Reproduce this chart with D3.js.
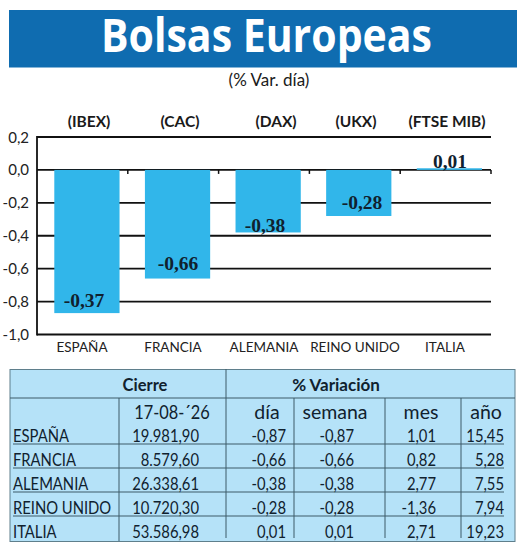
<!DOCTYPE html>
<html><head><meta charset="utf-8">
<style>html,body{margin:0;padding:0;background:#fff}svg{display:block}text{font-family:Lato,"Open Sans",sans-serif}</style>
<script src="https://cdnjs.cloudflare.com/ajax/libs/d3/7.8.5/d3.min.js"></script></head><body>
<svg id="c" width="520" height="547"></svg>
<script>
const countries=["ESPAÑA","FRANCIA","ALEMANIA","REINO UNIDO","ITALIA"];
const indices=["(IBEX)","(CAC)","(DAX)","(UKX)","(FTSE MIB)"];
const dayValues=[-0.87,-0.66,-0.38,-0.28,0.01];
const barLabels=["-0,37","-0,66","-0,38","-0,28","0,01"];
const yTicks=[0.2,0,-0.2,-0.4,-0.6,-0.8,-1.0];
const closes=["19.981,90","8.579,60","26.338,61","10.720,30","53.586,98"];
const dia=["-0,87","-0,66","-0,38","-0,28","0,01"];
const semana=["-0,87","-0,66","-0,38","-0,28","0,01"];
const mes=["1,01","0,82","2,77","-1,36","2,71"];
const anio=["15,45","5,28","7,55","7,94","19,23"];
const subHeads=["17-08-´26","día","semana","mes","año"];

const svg=d3.select("#c");
const BLUE="#0f6cb0",SKY="#31b6ea",PALE="#b5e2f8",LINE="#3c5a68",INK="#10212e";

// banner
svg.append("rect").attr("x",9).attr("y",10).attr("width",508).attr("height",57.5).attr("fill",BLUE);
svg.append("text").attr("x",266.5).attr("y",52).attr("text-anchor","middle").attr("fill","#fff")
  .attr("font-size",46).attr("font-weight",700).style("font-family","'Open Sans'").attr("textLength",331).attr("lengthAdjust","spacingAndGlyphs").text("Bolsas Europeas");
svg.append("text").attr("x",269).attr("y",86).attr("text-anchor","middle").attr("fill","#1a1a1a")
  .attr("font-size",17).text("(% Var. día)");

// chart
const x=d3.scaleBand().domain(countries).range([54.3,482]).paddingInner(0.28).paddingOuter(0);
const y=d3.scaleLinear().domain([-1,0.2]).range([334.5,137]);
const g=svg.append("g");
g.selectAll("line.g").data(yTicks).join("line").attr("class","g")
  .attr("x1",37).attr("x2",491).attr("y1",d=>y(d)).attr("y2",d=>y(d))
  .attr("stroke","#111").attr("stroke-width",1.8);
g.append("line").attr("x1",37).attr("x2",37).attr("y1",y(0.2)-.9).attr("y2",y(-1)+.9).attr("stroke","#111").attr("stroke-width",1.8);
g.selectAll("line.t").data(d3.range(1,6)).join("line").attr("class","t")
  .attr("x1",i=>37+i*90.8).attr("x2",i=>37+i*90.8).attr("y1",y(0)).attr("y2",y(0)+4).attr("stroke","#111").attr("stroke-width",1.5);
g.selectAll("rect.b").data(dayValues).join("rect").attr("class","b")
  .attr("x",(d,i)=>x(countries[i])).attr("width",x.bandwidth())
  .attr("y",d=>y(Math.max(d,0))).attr("height",d=>Math.max(Math.abs(y(d)-y(0)),1.5))
  .attr("fill",SKY);
g.selectAll("text.tick").data(yTicks).join("text").attr("class","tick")
  .attr("x",29).attr("y",d=>y(d)+5.5).attr("text-anchor","end").attr("font-size",15).attr("fill","#222")
  .text(d=>d3.format(".1f")(d).replace(".",",").replace("−","-"));
const valX=[84,178,265,362,450];
const valY=[307,270,231.5,209,168];
g.selectAll("text.val").data(dayValues).join("text").attr("class","val")
  .attr("x",(d,i)=>valX[i]).attr("y",(d,i)=>valY[i])
  .attr("text-anchor","middle").attr("font-size",19.5).attr("font-weight",700).attr("fill",INK)
  .style("font-family","'Liberation Serif'").text((d,i)=>barLabels[i]);
const catX=[82,173,264,355,445];
g.selectAll("text.cat").data(countries).join("text").attr("class","cat")
  .attr("x",(d,i)=>catX[i]).attr("y",352).attr("text-anchor","middle").attr("font-size",13.5).attr("fill","#222").text(d=>d);
const idxX=[89,180,276,356,447];
g.selectAll("text.idx").data(indices).join("text").attr("class","idx")
  .attr("x",(d,i)=>idxX[i]).attr("y",127).attr("text-anchor","middle").attr("font-size",15.5).attr("font-weight",700).attr("fill","#1a1a1a").text(d=>d);

// table
const tb=svg.append("g");
tb.append("rect").attr("x",10).attr("y",369.5).attr("width",505).attr("height",172).attr("fill",PALE).attr("stroke","#5f7f8c").attr("stroke-width",1);
const rowLines=[398,444,468,492,516];
tb.selectAll("line.r").data(rowLines).join("line").attr("class","r")
  .attr("x1",(d,i)=>i?13:10).attr("x2",(d,i)=>i?504:515).attr("y1",d=>d).attr("y2",d=>d).attr("stroke",LINE).attr("stroke-width",1);
const colLines=[[119,398,541],[226,369,538],[294,398,538],[385,398,538],[461,398,538]];
tb.selectAll("line.c").data(colLines).join("line").attr("class","c")
  .attr("x1",d=>d[0]).attr("x2",d=>d[0]).attr("y1",d=>d[1]).attr("y2",d=>d[2]).attr("stroke",LINE).attr("stroke-width",1);
tb.append("text").attr("x",145).attr("y",391).attr("text-anchor","middle").attr("font-size",16.5).attr("font-weight",700).attr("fill",INK).text("Cierre");
tb.append("text").attr("x",336).attr("y",391).attr("text-anchor","middle").attr("font-size",17).attr("font-weight",700).attr("fill",INK).text("% Variación");
const subX=[172,267,335,421,486];
tb.selectAll("text.s").data(subHeads).join("text").attr("class","s")
  .attr("transform",(d,i)=>`translate(${subX[i]},419) scale(${i?1:0.84},1)`).attr("text-anchor","middle").attr("font-size",19.5).attr("fill",INK).text(d=>d);
const rowY=[442,466,490,514,538];
const SX=0.87;
tb.selectAll("text.n").data(countries).join("text").attr("class","n")
  .attr("transform",(d,i)=>`translate(13,${rowY[i]}) scale(${SX},1)`).attr("font-size",17).attr("fill",INK).text(d=>d);
const cols=[[closes,199],[dia,286],[semana,354],[mes,436],[anio,504]];
cols.forEach(([vals,right])=>{
  tb.selectAll(null).data(vals).join("text").attr("transform",(d,i)=>`translate(${right},${rowY[i]}) scale(${SX},1)`)
    .attr("text-anchor","end").attr("font-size",17).attr("fill",INK).text(d=>d);
});
</script></body></html>
